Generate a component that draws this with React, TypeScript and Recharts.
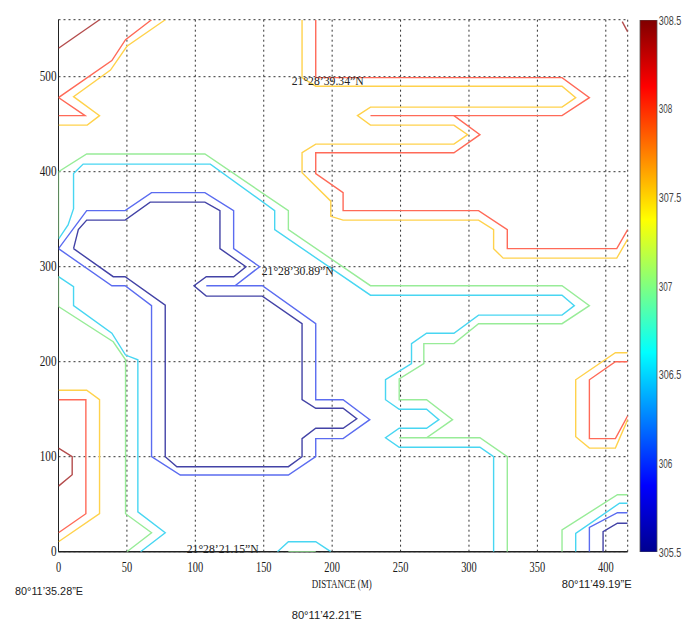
import {
  Bar,
  BarChart,
  CartesianGrid,
  Scatter,
  ScatterChart,
  XAxis,
  YAxis,
} from "recharts";

type Pt = [number, number];

// contour traces: [distance (m), north (m)]
const navyLoop: Pt[] = [
  [11, 319], [14.5, 339], [20.6, 349], [48.7, 349], [67, 368], [107, 368],
  [118, 359], [118, 319], [137, 300], [128, 289.5], [108, 289.5], [99, 280],
  [108, 269], [149, 269], [178, 240], [178, 160], [188, 151], [208, 151],
  [218, 140], [208, 130], [188, 130], [178, 119], [178, 100], [168, 89.5],
  [86.5, 89.5], [78, 100], [78, 259.6], [48.7, 289.5], [40, 289.5], [11, 319],
];
const navyCorner: Pt[] = [[398, 0], [398, 21], [408.5, 30], [416, 30]];

const blueLoop: Pt[] = [
  [0, 319], [20.6, 359], [48.7, 359], [68, 378], [107, 378], [128, 359],
  [128, 319], [147, 300], [129, 280], [108, 280], [149, 280], [188, 240],
  [188, 160], [208, 160], [227.5, 139], [208, 119], [188, 119], [188, 100],
  [168, 80.7], [89, 80.7], [68, 100], [68, 259], [48.7, 280], [39, 280], [0, 319],
];
const blueCorner: Pt[] = [[388, 0], [388, 25.6], [408.5, 41], [416, 41]];

const cyanUpper: Pt[] = [
  [0, 329], [7, 344], [11, 361], [11, 398], [18, 408], [111, 408], [158, 359],
  [158, 339], [228, 270], [368, 270], [377, 259], [368, 249], [307, 249],
  [289, 230], [269, 230], [258, 219], [258, 198], [239, 181], [239, 160],
  [249, 150], [269, 150], [278, 139], [269, 130], [249, 130], [239, 120],
  [249, 110], [308, 110], [318, 100], [318, 0],
];
const cyanLower: Pt[] = [
  [0, 289.5], [11, 279], [11, 259], [39, 230], [49, 207], [58, 202], [58, 42],
  [78, 20], [60, 0],
];
const cyanBottom: Pt[] = [[160, 0], [168, 10.5], [188, 10.5], [199, 0]];
const cyanCorner: Pt[] = [[378, 0], [378, 19.3], [410, 51], [416, 51]];

const greenUpper: Pt[] = [
  [0, 330], [0, 400], [20.6, 418.6], [107, 418.6], [168, 359], [168, 339],
  [228, 280], [368, 280], [388, 259], [368, 240], [307, 240], [289, 219],
  [267, 219], [267, 198], [249, 182], [249, 160], [269, 160], [288, 139],
  [269, 120], [249, 120], [308, 120], [328, 100], [328, 0],
];
const greenLower: Pt[] = [
  [0, 290], [0, 258], [40, 221], [49, 202], [49, 40], [68, 20], [50, 0],
];
const greenBottom: Pt[] = [[168, 0], [188, 0]];
const greenCorner: Pt[] = [[368, 0], [368, 23], [408.5, 60], [416, 60]];

const yellowTopLeft: Pt[] = [
  [78, 560], [50, 532], [38, 507], [11, 479], [30, 459], [21, 449], [0, 449],
];
const yellowTop: Pt[] = [
  [178, 560], [178, 499], [188, 490], [368, 490], [378, 478], [368, 468],
  [228, 468], [218.5, 459], [228, 449], [289, 449], [299, 439], [289, 429],
  [188, 429], [178, 420], [178, 399], [199, 369], [199, 353], [208, 349],
  [307, 349], [318, 339], [318, 319], [325, 309], [408, 309], [416, 329],
];
const yellowLeft: Pt[] = [[0, 170], [20.6, 170], [30, 160], [30, 40], [0, 10.5]];
const yellowRight: Pt[] = [
  [416, 209.5], [407, 209.5], [378, 181], [378, 121], [388, 109], [407, 109],
  [416, 139],
];

const redTopLeft: Pt[] = [
  [68, 560], [49, 539], [39, 517], [0, 478], [19.4, 459], [0, 459],
];
const redTopA: Pt[] = [
  [188, 560], [188, 499], [368, 499], [388, 478], [368, 459], [228, 459],
];
const redTopB: Pt[] = [
  [289, 459], [308, 439], [289, 420], [188, 420], [188, 398], [208, 378],
  [208, 359], [307, 359], [328, 339], [328, 319], [408, 319], [416, 339],
];
const redLeft: Pt[] = [[0, 160], [20, 160], [20, 40], [0, 20]];
const redRight: Pt[] = [
  [416, 200], [407, 200], [388, 181], [388, 119], [407, 119], [416, 143],
];

const darkRedTopLeft: Pt[] = [[0, 530], [30, 560]];
const darkRedTopRight: Pt[] = [[412, 558], [416, 547]];
const darkRedLeft: Pt[] = [[0, 109], [10, 100], [10, 81], [0, 69]];

const xTicks = [0, 50, 100, 150, 200, 250, 300, 350, 400];
const yTicks = [0, 100, 200, 300, 400, 500];
const barTicks = [305.5, 306, 306.5, 307, 307.5, 308, 308.5];
const barSpan = [305.5, 308.5];

const contours = [
  { color: "#4343a6", lines: [navyLoop, navyCorner] },
  { color: "#5b6cf0", lines: [blueLoop, blueCorner] },
  { color: "#48d6f2", lines: [cyanUpper, cyanLower, cyanBottom, cyanCorner] },
  { color: "#98ec98", lines: [greenUpper, greenLower, greenBottom, greenCorner] },
  { color: "#ffd24c", lines: [yellowTopLeft, yellowTop, yellowLeft, yellowRight] },
  { color: "#ff6a58", lines: [redTopLeft, redTopA, redTopB, redLeft, redRight] },
  { color: "#b44c4c", lines: [darkRedTopLeft, darkRedTopRight, darkRedLeft] },
];

const serif = "'Liberation Serif', 'Times New Roman', serif";
const sans = "'Liberation Sans', Arial, sans-serif";

function NoDot() {
  return <g />;
}

function XTick(props: any) {
  const label = String(props.payload.value);
  return (
    <text
      x={props.x}
      y={props.y + 10}
      textAnchor="middle"
      fontFamily={serif}
      fontSize={14}
      fill="#1a1a1a"
      textLength={label.length * 5.2}
      lengthAdjust="spacingAndGlyphs"
    >
      {label}
    </text>
  );
}

function YTick(props: any) {
  const label = String(props.payload.value);
  return (
    <text
      x={props.x}
      y={props.y + 4.7}
      textAnchor="end"
      fontFamily={serif}
      fontSize={14}
      fill="#1a1a1a"
      textLength={label.length * 5.6}
      lengthAdjust="spacingAndGlyphs"
    >
      {label}
    </text>
  );
}

function BarTick(props: any) {
  const label = String(props.payload.value);
  return (
    <text
      x={props.x}
      y={props.y + 4.5}
      textAnchor="start"
      fontFamily={sans}
      fontSize={13}
      fill="#444"
      textLength={label.length * 4.5}
      lengthAdjust="spacingAndGlyphs"
    >
      {label}
    </text>
  );
}

const notes = [
  { text: "21°28’39.34”N", x: 283.7, y: 77, w: 72, font: serif, size: 12.5 },
  { text: "21°28’30.89”N", x: 253.7, y: 267, w: 72, font: serif, size: 12.5 },
  { text: "21°28’21.15”N", x: 178.7, y: 545, w: 72, font: serif, size: 12.5 },
  { text: "80°11’35.28”E", x: 7, y: 587, w: 68, font: sans, size: 11.5 },
  { text: "DISTANCE (M)", x: 303.7, y: 580, w: 60, font: serif, size: 12 },
  { text: "80°11’49.19”E", x: 553.7, y: 580, w: 70, font: sans, size: 11.5 },
  { text: "80°11’42.21”E", x: 283.7, y: 611, w: 70, font: sans, size: 11.5 },
];

export default function App() {
  return (
    <div style={{ position: "relative", width: 688, height: 613 }}>
      <svg width={0} height={0} style={{ position: "absolute" }}>
        <defs>
          <linearGradient id="jetGrad" x1="0" y1="1" x2="0" y2="0">
            <stop offset="0" stopColor="#00008f" />
            <stop offset="0.125" stopColor="#0000ff" />
            <stop offset="0.375" stopColor="#00ffff" />
            <stop offset="0.5" stopColor="#80ff80" />
            <stop offset="0.625" stopColor="#ffff00" />
            <stop offset="0.875" stopColor="#ff0000" />
            <stop offset="1" stopColor="#800000" />
          </linearGradient>
        </defs>
      </svg>

      <ScatterChart
        width={688}
        height={613}
        margin={{ top: 11.7, right: 68.3, bottom: 39.3, left: 0.5 }}
      >
        <CartesianGrid stroke="#333" strokeDasharray="2 3" />
        <XAxis
          type="number"
          dataKey="x"
          domain={[0, 416]}
          ticks={xTicks}
          allowDataOverflow
          height={30}
          tickSize={0}
          tickMargin={10}
          tick={<XTick />}
          axisLine={{ stroke: "#222", strokeWidth: 1.5 }}
        />
        <YAxis
          type="number"
          dataKey="y"
          domain={[0, 560]}
          ticks={yTicks}
          allowDataOverflow
          width={50}
          tickSize={0}
          tickMargin={2}
          tick={<YTick />}
          axisLine={{ stroke: "#222" }}
        />
        {contours.flatMap((c, ci) =>
          c.lines.map((pts, li) => (
            <Scatter
              key={`${ci}-${li}`}
              data={pts.map(([x, y]) => ({ x, y }))}
              line={{ stroke: c.color, strokeWidth: 1.4 }}
              lineType="joint"
              shape={<NoDot />}
              isAnimationActive={false}
            />
          ))
        )}
      </ScatterChart>

      <div style={{ position: "absolute", left: 630, top: 0 }}>
        <BarChart
          width={70}
          height={613}
          data={[{ name: "scale", span: barSpan }]}
          margin={{ top: 12, right: 0, bottom: 69, left: 2 }}
          barCategoryGap={0}
        >
          <XAxis dataKey="name" hide />
          <YAxis
            orientation="right"
            type="number"
            domain={barSpan}
            ticks={barTicks}
            allowDataOverflow
            width={51.3}
            tickSize={0}
            tickMargin={2}
            axisLine={false}
            tick={<BarTick />}
          />
          <Bar
            dataKey="span"
            fill="url(#jetGrad)"
            stroke="#555"
            strokeWidth={0.8}
            isAnimationActive={false}
          />
        </BarChart>
      </div>

      <svg
        width={688}
        height={613}
        style={{ position: "absolute", left: 0, top: 0, pointerEvents: "none" }}
      >
        {notes.map((n) => (
          <text
            key={n.text}
            x={n.x}
            y={n.y}
            fontFamily={n.font}
            fontSize={n.size}
            fill="#222"
            textLength={n.w}
            lengthAdjust="spacingAndGlyphs"
          >
            {n.text}
          </text>
        ))}
      </svg>
    </div>
  );
}
